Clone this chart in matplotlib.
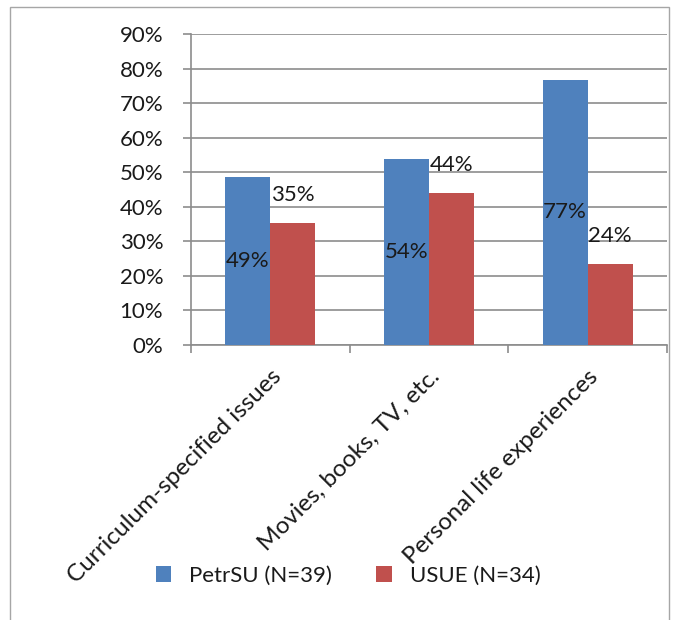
import matplotlib
matplotlib.use("Agg")
import matplotlib.pyplot as plt
from matplotlib.patches import Rectangle
import numpy as np

categories = ["Curriculum-specified issues", "Movies, books, TV, etc.", "Personal life experiences"]
series_names = ["PetrSU (N=39)", "USUE (N=34)"]
petrsu = [0.487, 0.538, 0.769]
usue = [0.353, 0.441, 0.235]
petrsu_labels = ["49%", "54%", "77%"]
usue_labels = ["35%", "44%", "24%"]
yticks = [0, 0.1, 0.2, 0.3, 0.4, 0.5, 0.6, 0.7, 0.8, 0.9]
ytick_labels = ["0%", "10%", "20%", "30%", "40%", "50%", "60%", "70%", "80%", "90%"]

blue = "#4F81BD"
red = "#C0504D"
grid = "#8C8C8C"
font = "Lato"
fs = 16

plt.rcParams['font.family'] = [font, 'DejaVu Sans']

fig = plt.figure(figsize=(6.76, 6.2), dpi=100)
# outer chart frame
fig.patches.append(Rectangle((10/676, -0.1), 659/676, 1.1 - 7/620, transform=fig.transFigure,
                             fill=False, edgecolor="#A6A6A6", linewidth=1.0))
ax = fig.add_axes([191/676, 1 - 345/620, 476/676, (345 - 34.5)/620])

x = np.arange(len(categories))
w = 0.284
b1 = ax.bar(x - w/2, petrsu, w, color=blue, label=series_names[0], zorder=3)
b2 = ax.bar(x + w/2, usue, w, color=red, label=series_names[1], zorder=3)

for xi, v, lab in zip(x, petrsu, petrsu_labels):
    ax.text(xi - w/2, v/2, lab, ha="center", va="center", fontsize=fs, color="#1a1a1a", zorder=4)
for xi, v, lab in zip(x, usue, usue_labels):
    ax.annotate(lab, (xi + w/2, v), xytext=(0, 20), textcoords="offset points",
                ha="center", va="center", fontsize=fs, color="#1a1a1a", zorder=4)

ax.set_ylim(0, 0.9)
ax.set_xlim(-0.5, 2.5)
ax.set_yticks(yticks)
ax.set_yticklabels(ytick_labels, fontsize=fs, color="#1a1a1a")
ax.yaxis.grid(True, color=grid, linewidth=1.2, zorder=0)
ax.set_axisbelow(True)

ax.set_xticks(x)
ax.set_xticklabels(categories, rotation=45, ha="right", va="top", rotation_mode="anchor",
                   fontsize=17.5, color="#1a1a1a")
ax.tick_params(axis="x", which="major", length=0, pad=15)
ax.set_xticks([-0.5, 0.5, 1.5, 2.5], minor=True)
ax.tick_params(axis="x", which="minor", length=6, color=grid, width=1.2)
ax.tick_params(axis="y", length=6, color=grid, width=1.2, pad=14)

for s in ["top", "right"]:
    ax.spines[s].set_visible(False)
for s in ["left", "bottom"]:
    ax.spines[s].set_color(grid)
    ax.spines[s].set_linewidth(1.2)

fig.legend(handles=[b1, b2], labels=series_names, loc="center",
           bbox_to_anchor=(348/676, 1 - 576/620), ncol=2, frameon=False,
           fontsize=fs, handlelength=0.7, handleheight=0.7, columnspacing=2.0, handletextpad=0.8,
           labelcolor="#1a1a1a")

fig.savefig("out.png", dpi=100)
